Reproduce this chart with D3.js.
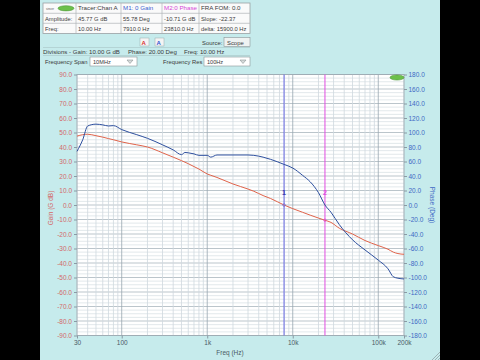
<!DOCTYPE html>
<html><head><meta charset="utf-8">
<script src="https://cdn.jsdelivr.net/npm/d3@7"></script>
<style>html,body{margin:0;padding:0;background:#000;} svg{display:block;} text{font-family:"Liberation Sans",Arial,sans-serif;}</style>
</head><body><svg id="c" width="480" height="360"></svg>
<script>
// ---- data ----
const freqs = [30, 35, 40, 50, 60, 70, 80, 100, 150, 200, 300, 400, 500, 550, 600, 700, 800, 1000, 1100, 1300, 2000, 3000, 3500, 4500, 5500, 7910, 10000, 13000, 16000, 20000, 23810, 28000, 35000, 50000, 70000, 100000, 130000, 150000, 170000, 200000];
const gainDb = [47.5, 48.5, 48.8, 47.8, 46.8, 45.8, 45, 43.5, 41.5, 40, 36, 33, 30.6, 29.5, 28.5, 26.5, 24.8, 21.4, 20.5, 19, 14.5, 11, 9.5, 6.5, 4.5, 0, -2.5, -5, -7, -9, -10.5, -12, -16, -20, -24.5, -28, -30.5, -32.5, -33.5, -34];
const phaseDeg = [74, 90, 109, 111.5, 110.5, 109, 109.5, 104, 97, 92, 83, 76, 69.5, 72.5, 72, 70.5, 68.5, 68.5, 66, 69, 69, 69, 68.5, 66, 63, 56, 51, 41, 32, 17, 0, -10, -27, -48, -62, -76, -88, -99, -101, -102];
const gainTicks = d3.range(-90, 91, 10);
const phaseTicks = d3.range(-180, 181, 20);
const freqTicks = [30, 100, 1000, 10000, 100000, 200000];
const freqTickLabels = ["30", "100", "1k", "10k", "100k", "200k"];
const markerFreqs = [7910, 23810];
const markerLabels = ["1", "2"];
const tableRow1 = ["", "Tracer:Chan A", "M1: 0 Gain", "M2:0 Phase", "FRA FOM: 0.0"];
const tableRow2 = ["Amplitude:", "45.77 G dB", "55.78 Deg", "-10.71 G dB", "Slope: -22.37"];
const tableRow3 = ["Freq:", "10.00 Hz", "7910.0 Hz", "23810.0 Hz", "delta: 15900.0 Hz"];
const divisionTexts = ["Divisions - Gain: 10.00 G dB", "Phase: 20.00 Deg", "Freq: 10.00 Hz"];

// ---- layout ----
const svg = d3.select("#c");
const L = 77, R = 404, T = 74.5, B = 335.5;
const x = d3.scaleLog().domain([30, 200000]).range([L, R]);
const yG = d3.scaleLinear().domain([-90, 90]).range([B, T]);
const yP = d3.scaleLinear().domain([-180, 180]).range([B, T]);
const redC = "#e0634a", blueC = "#2d4f9e";
const m1C = "#6a6ae6", m2C = "#e04ce0";

svg.append("rect").attr("width", 480).attr("height", 360).attr("fill", "#000");
svg.append("rect").attr("x", 40).attr("width", 400).attr("height", 360).attr("fill", "#c6ebec");

// ---- table ----
const colX = [43, 76, 121, 162, 199, 250];
const rowY = [3, 13.3, 23.3, 33.5];
const rows = [tableRow1, tableRow2, tableRow3];
const tg = svg.append("g");
tg.append("rect").attr("x", 43).attr("y", 3).attr("width", 207).attr("height", 30.5).attr("fill", "#fafafa").attr("stroke", "#9aa0a4").attr("stroke-width", 0.8);
rowY.slice(1, 3).forEach(yy => tg.append("line").attr("x1", 43).attr("x2", 250).attr("y1", yy).attr("y2", yy).attr("stroke", "#b0b4b8").attr("stroke-width", 0.7));
colX.slice(1, 5).forEach(xx => tg.append("line").attr("x1", xx).attr("x2", xx).attr("y1", 3).attr("y2", 33.5).attr("stroke", "#b0b4b8").attr("stroke-width", 0.7));
rows.forEach((r, ri) => r.forEach((s, ci) => {
  let col = "#3a3a3a";
  if (ri === 0 && ci === 2) col = "#3a5fd0";
  if (ri === 0 && ci === 3) col = "#d846d8";
  tg.append("text").attr("x", colX[ci] + 2).attr("y", rowY[ri] + 7.4).attr("font-size", ri === 0 ? 6.2 : 5.8).attr("fill", col).text(s);
}));
// logo in table
tg.append("text").attr("x", 46).attr("y", 10).attr("font-size", 3).attr("fill", "#555").text("sincer");
tg.append("ellipse").attr("cx", 66).attr("cy", 8.3).attr("rx", 8).attr("ry", 2.6).attr("fill", "#6cc04a").attr("stroke", "#3e8a2a").attr("stroke-width", 0.5);

// icons
svg.append("rect").attr("x", 140).attr("y", 38).attr("width", 9).attr("height", 8).attr("fill", "#f4f4f4").attr("stroke", "#9aa").attr("stroke-width", 0.5);
svg.append("text").attr("x", 141.5).attr("y", 44.8).attr("font-size", 6).attr("font-weight", "bold").attr("fill", "#d83030").text("A");
svg.append("rect").attr("x", 155).attr("y", 38).attr("width", 9).attr("height", 8).attr("fill", "#f4f4f4").attr("stroke", "#9aa").attr("stroke-width", 0.5);
svg.append("text").attr("x", 156.5).attr("y", 44.8).attr("font-size", 6).attr("font-weight", "bold").attr("fill", "#3050d0").text("A");
svg.append("text").attr("x", 202).attr("y", 44.5).attr("font-size", 5.9).attr("fill", "#3a3a3a").text("Source:");
svg.append("rect").attr("x", 224).attr("y", 37.5).attr("width", 26).attr("height", 9).attr("fill", "#eef2f2").attr("stroke", "#8a9496").attr("stroke-width", 0.6);
svg.append("text").attr("x", 227).attr("y", 44.5).attr("font-size", 5.9).attr("fill", "#3a3a3a").text("Scope");
svg.append("line").attr("x1", 43).attr("x2", 250).attr("y1", 47.5).attr("y2", 47.5).attr("stroke", "#a8c4c6").attr("stroke-width", 0.6);
[43, 128, 184].forEach((xx, i) => svg.append("text").attr("x", xx).attr("y", 53.5).attr("font-size", 6.1).attr("fill", "#3a3a3a").text(divisionTexts[i]));
svg.append("line").attr("x1", 43).attr("x2", 250).attr("y1", 55.5).attr("y2", 55.5).attr("stroke", "#a8c4c6").attr("stroke-width", 0.6);
// dropdowns
function dropdown(lx, label, bx, bw, val) {
  svg.append("text").attr("x", lx).attr("y", 63.5).attr("font-size", 5.8).attr("fill", "#3a3a3a").text(label);
  svg.append("rect").attr("x", bx).attr("y", 57).attr("width", bw).attr("height", 9).attr("fill", "#fff").attr("stroke", "#8a9496").attr("stroke-width", 0.6);
  svg.append("text").attr("x", bx + 3).attr("y", 63.5).attr("font-size", 5.6).attr("fill", "#3a3a3a").text(val);
  const ax = bx + bw - 7;
  svg.append("path").attr("d", `M${ax - 3},60 L${ax + 3},60 L${ax},63.5 Z`).attr("fill", "#d8dcdc").attr("stroke", "#7a8486").attr("stroke-width", 0.5);
}
dropdown(45, "Frequency Span", 90, 47, "10MHz");
dropdown(163, "Frequency Res", 204, 46, "100Hz");

// ---- plot ----
svg.append("rect").attr("x", L).attr("y", T).attr("width", R - L).attr("height", B - T).attr("fill", "#fff");
const grid = svg.append("g");
d3.range(-90, 90.01, 2.5).forEach(v => {
  const major = v % 10 === 0;
  grid.append("line").attr("x1", L).attr("x2", R).attr("y1", yG(v)).attr("y2", yG(v))
    .attr("stroke", major ? "#aab6be" : "#dbe2e6").attr("stroke-width", 0.8);
});
[10, 100, 1000, 10000, 100000].forEach(d => {
  for (let k = 1; k <= 9; k++) {
    const f = k * d;
    if (f < 30 || f > 200000) continue;
    grid.append("line").attr("x1", x(f)).attr("x2", x(f)).attr("y1", T).attr("y2", B)
      .attr("stroke", k === 1 ? "#98a6b0" : "#cfd8de").attr("stroke-width", 0.8);
  }
});
svg.append("rect").attr("x", L).attr("y", T).attr("width", R - L).attr("height", B - T).attr("fill", "none").attr("stroke", "#9aa8b0").attr("stroke-width", 0.8);

// markers
markerFreqs.forEach((f, i) => {
  const c = i === 0 ? m1C : m2C;
  svg.append("line").attr("x1", x(f)).attr("x2", x(f)).attr("y1", T).attr("y2", B).attr("stroke", c).attr("stroke-width", 1);
  svg.append("text").attr("x", x(f)).attr("y", 195).attr("text-anchor", "middle").attr("font-size", 7).attr("font-weight", "bold").attr("fill", i === 0 ? "#3a3ab0" : m2C).text(markerLabels[i]);
});

// curves
const pts = freqs.map((f, i) => ({f, g: gainDb[i], p: phaseDeg[i]}));
svg.append("path").datum(pts).attr("fill", "none").attr("stroke", redC).attr("stroke-width", 1)
  .attr("d", d3.line().x(d => x(d.f)).y(d => yG(d.g)).curve(d3.curveMonotoneX));
svg.append("path").datum(pts).attr("fill", "none").attr("stroke", blueC).attr("stroke-width", 1)
  .attr("d", d3.line().x(d => x(d.f)).y(d => yP(d.p)).curve(d3.curveMonotoneX));
markerFreqs.forEach((f, i) => {
  const j = freqs.indexOf(f);
  svg.append("circle").attr("cx", x(f)).attr("cy", yG(gainDb[j])).attr("r", 1.3).attr("fill", "none").attr("stroke", i === 0 ? m1C : m2C).attr("stroke-width", 0.7);
});

// logo in plot
svg.append("ellipse").attr("cx", 397).attr("cy", 77.5).attr("rx", 7).attr("ry", 2.6).attr("fill", "#6cc04a").attr("stroke", "#3e8a2a").attr("stroke-width", 0.5);

// axes
function styleAxis(g, col) {
  g.select(".domain").remove();
  g.selectAll(".tick line").attr("stroke", "#8a9aa4");
  g.selectAll(".tick text").attr("fill", col).attr("font-size", 6.5).attr("font-family", "Liberation Sans, Arial, sans-serif");
}
const gl = svg.append("g").attr("transform", `translate(${L},0)`)
  .call(d3.axisLeft(yG).tickValues(gainTicks).tickFormat(d => d.toFixed(1)).tickSize(3).tickPadding(2));
styleAxis(gl, "#d46868");
const gr = svg.append("g").attr("transform", `translate(${R},0)`)
  .call(d3.axisRight(yP).tickValues(phaseTicks).tickFormat(d => d.toFixed(1)).tickSize(3).tickPadding(1.5));
styleAxis(gr, "#3d68c4");
const gb = svg.append("g").attr("transform", `translate(0,${B})`)
  .call(d3.axisBottom(x).tickValues(freqTicks).tickFormat((d, i) => freqTickLabels[i]).tickSize(3).tickPadding(2));
styleAxis(gb, "#4a5a66");

svg.append("text").attr("transform", "translate(53,208) rotate(-90)").attr("text-anchor", "middle").attr("font-size", 6.5).attr("fill", "#d46868").text("Gain (G dB)");
svg.append("text").attr("transform", "translate(430,205) rotate(90)").attr("text-anchor", "middle").attr("font-size", 6.5).attr("fill", "#3d68c4").text("Phase (Deg)");
svg.append("text").attr("x", 230).attr("y", 355).attr("text-anchor", "middle").attr("font-size", 6.5).attr("fill", "#4a5a66").text("Freq (Hz)");

// resize grip
[0, 3, 6].forEach(o => svg.append("line").attr("x1", 432 + o).attr("y1", 360).attr("x2", 440).attr("y2", 352 + o).attr("stroke", "#8a9a9c").attr("stroke-width", 0.7));
</script></body></html>
